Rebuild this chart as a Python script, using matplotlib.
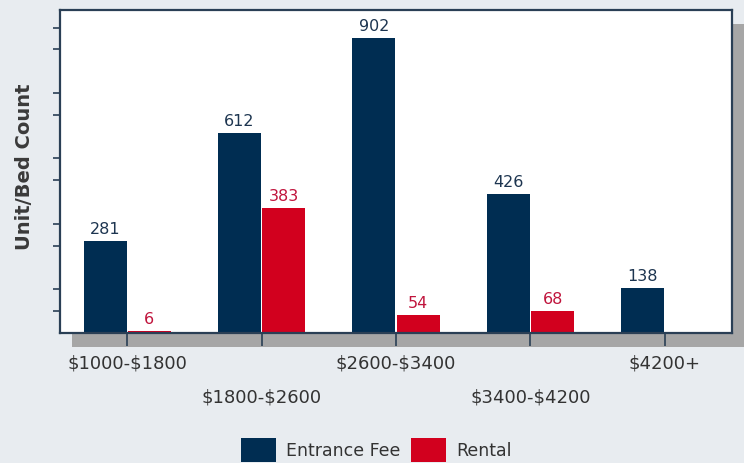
import matplotlib
matplotlib.use("Agg")
import matplotlib.pyplot as plt
from matplotlib.patches import Rectangle
import numpy as np

plt.rcParams["text.parse_math"] = False

# price bands and counts per band
bands = ["$1000-$1800", "$1800-$2600", "$2600-$3400", "$3400-$4200", "$4200+"]
entrance_fee = [281, 612, 902, 426, 138]
rental = [6, 383, 54, 68, None]

navy = "#002d52"
red = "#d2001e"
bg = "#e8ecf0"
edge = "#2a3f55"

fig = plt.figure(figsize=(7.44, 4.63), dpi=100, facecolor=bg)
W, H = 744, 463
ax = fig.add_axes([60 / W, 1 - 333 / H, 672 / W, 323 / H])
ax.set_facecolor("white")
ax.set_zorder(2)

# drop shadow behind the plot area
fig.patches.append(Rectangle((72 / W, 1 - 347 / H), 672 / W, 323 / H,
                             transform=fig.transFigure, facecolor="#a6a6a6",
                             edgecolor="none", zorder=-1))

x = np.arange(len(bands))
w = 0.32
ef_bars = ax.bar(x - 0.165, entrance_fee, w, color=navy, label="Entrance Fee", zorder=2)
r_vals = [v if v is not None else 0 for v in rental]
r_bars = ax.bar(x + 0.165, r_vals, w, color=red, label="Rental", zorder=2)

for b, v in zip(ef_bars, entrance_fee):
    ax.text(b.get_x() + b.get_width() / 2, v + 12, str(v), ha="center", va="bottom",
            fontsize=11.5, color="#1d3550")
for b, v in zip(r_bars, rental):
    if v is None:
        continue
    ax.text(b.get_x() + b.get_width() / 2, v + 12, str(v), ha="center", va="bottom",
            fontsize=11.5, color="#c0143c")

ax.set_xlim(-0.5, len(bands) - 0.5)
ax.set_ylim(0, 987)

# unlabeled y ticks, skipping every third one
yt = [k * 200 / 3 for k in range(1, 15) if k % 3 != 0]
ax.set_yticks(yt)
ax.set_yticklabels([])
ax.tick_params(axis="y", direction="out", length=5, width=1.2, color=edge)

ax.set_xticks(x)
ax.set_xticklabels([])
ax.tick_params(axis="x", direction="out", length=9, width=1.2, color=edge)
for i, lab in enumerate(bands):
    ypos = -0.095 if i % 2 == 0 else -0.2
    ax.text(i, ypos, lab, transform=ax.get_xaxis_transform(), ha="center", va="center",
            fontsize=13, color="#333333")

for s in ax.spines.values():
    s.set_color(edge)
    s.set_linewidth(1.6)

ax.set_ylabel("Unit/Bed Count", fontsize=14, fontweight="bold", color="#3a3a3a")
ax.yaxis.set_label_coords(-0.039, 0.515)

fig.legend(handles=[ef_bars, r_bars], loc="center", bbox_to_anchor=(0.506, 0.028),
           ncol=2, frameon=False, fontsize=12.5, handlelength=2.0, handleheight=1.8,
           handletextpad=0.6, columnspacing=0.6, labelcolor="#333333")

fig.savefig("out.png", dpi=100, facecolor=bg)
